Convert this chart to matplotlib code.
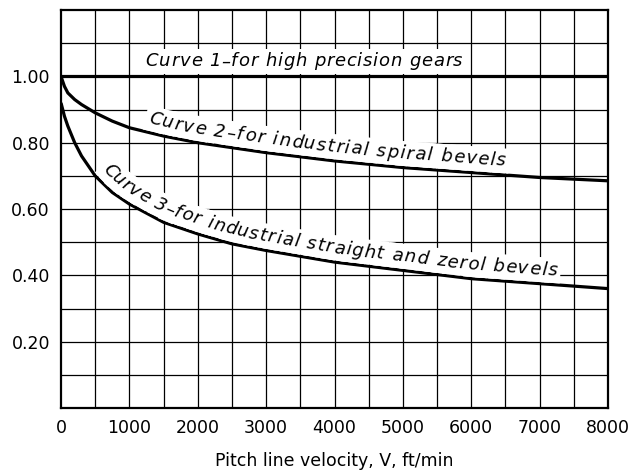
import numpy as np
import matplotlib
matplotlib.use("Agg")
import matplotlib.pyplot as plt

# pitch line velocity, ft/min
velocity = [0, 25, 50, 100, 200, 300, 500, 750, 1000, 1500, 2000, 2500,
            3000, 4000, 5000, 6000, 7000, 8000]
# dynamic factor
curve1 = [1.00] * len(velocity)
curve2 = [1.00, 0.985, 0.97, 0.95, 0.93, 0.915, 0.89, 0.865, 0.845, 0.82,
          0.80, 0.785, 0.77, 0.745, 0.725, 0.71, 0.695, 0.685]
curve3 = [0.92, 0.90, 0.88, 0.85, 0.80, 0.76, 0.70, 0.65, 0.615, 0.56,
          0.525, 0.495, 0.475, 0.44, 0.415, 0.39, 0.375, 0.36]

labels = ["Curve 1–for high precision gears",
          "Curve 2–for industrial spiral bevels",
          "Curve 3–for industrial straight and zerol bevels"]

xticks = [0, 1000, 2000, 3000, 4000, 5000, 6000, 7000, 8000]
yticks = [0.2, 0.4, 0.6, 0.8, 1.0]
ytick_labels = ["0.20", "0.40", "0.60", "0.80", "1.00"]

fig = plt.figure(figsize=(6.3, 4.75), dpi=100)
ax = fig.add_axes([61 / 630, 1 - 408 / 475, 547 / 630, 398 / 475])
ax.set_xlim(0, 8000)
ax.set_ylim(0, 1.2)

# grid every 500 ft/min and 0.1
for gx in np.arange(500, 8000, 500):
    ax.axvline(gx, color="black", lw=0.9, zorder=1)
for gy in np.arange(0.1, 1.2, 0.1):
    ax.axhline(gy, color="black", lw=0.9, zorder=1)

for c in [curve1, curve2, curve3]:
    ax.plot(velocity, c, color="black", lw=2.3, zorder=3,
            solid_capstyle="butt")

for sp in ax.spines.values():
    sp.set_linewidth(1.6)
ax.set_xticks(xticks)
ax.set_xticklabels([str(v) for v in xticks], fontsize=12.5)
ax.set_yticks(yticks)
ax.set_yticklabels(ytick_labels, fontsize=12.5)
ax.tick_params(length=0, pad=8)
ax.set_xlabel("Pitch line velocity, V, ft/min", fontsize=12.5, labelpad=11)

fig.canvas.draw()
renderer = fig.canvas.get_renderer()


def text_along(xs, ys, text, x_start, offset, fs, track):
    pts = ax.transData.transform(np.column_stack([xs, ys]))
    d = np.diff(pts, axis=0)
    seg = np.hypot(d[:, 0], d[:, 1])
    s = np.concatenate([[0], np.cumsum(seg)])
    ang = np.degrees(np.arctan2(d[:, 1], d[:, 0]))
    smid = (s[:-1] + s[1:]) / 2
    px0 = ax.transData.transform((x_start, 0))[0]
    pos = np.interp(px0, pts[:, 0], s)
    inv = ax.transData.inverted()
    for ch in text:
        t = ax.text(0, 0, ch, fontsize=fs, style="italic")
        w = t.get_window_extent(renderer).width + track
        t.remove()
        sc = pos + w / 2
        a = np.interp(sc, smid, ang)
        px = np.interp(sc, s, pts[:, 0])
        py = np.interp(sc, s, pts[:, 1])
        r = np.radians(a)
        nx, ny = -np.sin(r), np.cos(r)
        dx, dy = inv.transform((px + nx * offset, py + ny * offset))
        kw = dict(fontsize=fs, style="italic", rotation=a,
                  rotation_mode="anchor", ha="center", va="baseline")
        # white patch behind the lettering, then the letter itself
        ax.text(dx, dy, ch, color="white", zorder=4,
                bbox=dict(fc="white", ec="none", pad=2.5), **kw)
        ax.text(dx, dy, ch, color="black", zorder=5, **kw)
        pos += w


text_along(velocity, curve1, labels[0], 1230, 10, 13, 0.8)
text_along(velocity, curve2, labels[1], 1230, 9, 13, 1.4)
text_along(velocity, curve3, labels[2], 500, 9, 13, 1.25)

fig.savefig("out.png", dpi=100)
